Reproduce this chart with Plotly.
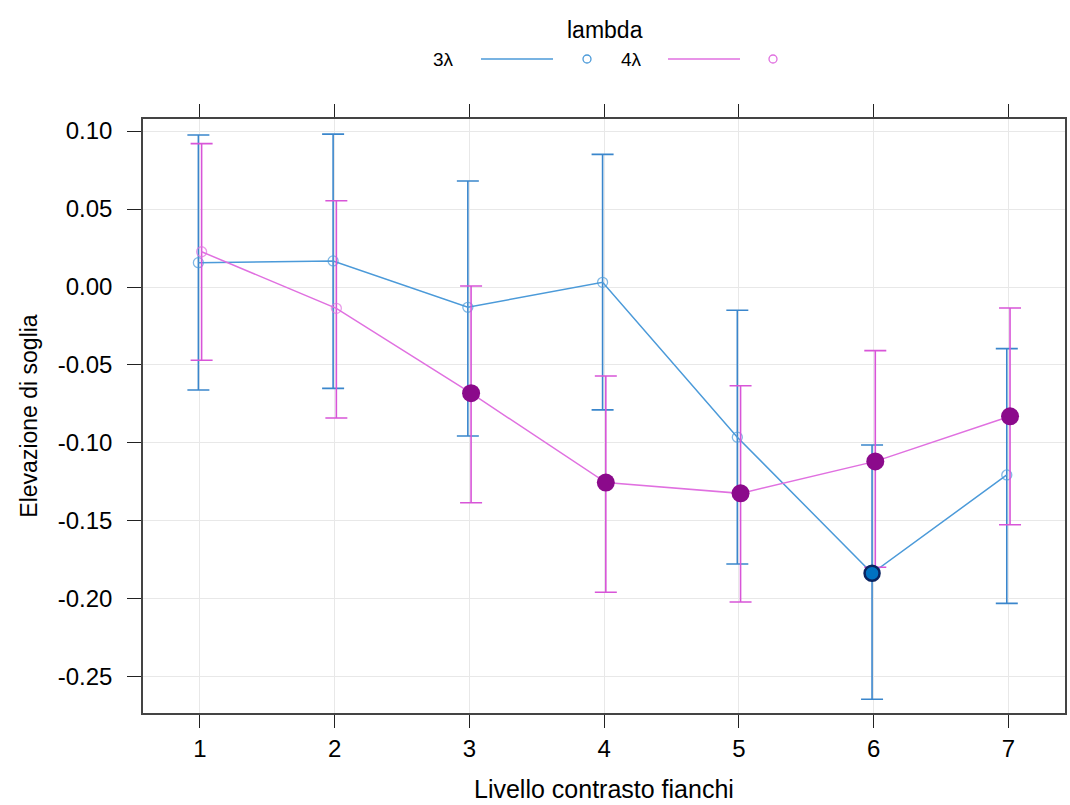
import plotly.graph_objects as go

# ---- data ----
levels = [1, 2, 3, 4, 5, 6, 7]
series_names = ["3λ", "4λ"]

blue_mean = [0.0156, 0.0167, -0.0130, 0.0030, -0.0963, -0.1835, -0.1205]
blue_lower = [-0.0660, -0.0650, -0.0955, -0.0788, -0.1776, -0.2643, -0.2028]
blue_upper = [0.0974, 0.0980, 0.0680, 0.0850, -0.0149, -0.1013, -0.0395]
blue_sig = [False, False, False, False, False, True, False]

pink_mean = [0.0226, -0.0137, -0.0681, -0.1254, -0.1323, -0.1118, -0.0829]
pink_lower = [-0.0470, -0.0840, -0.1383, -0.1957, -0.2019, -0.1797, -0.1524]
pink_upper = [0.0919, 0.0553, 0.0006, -0.0571, -0.0633, -0.0408, -0.0135]
pink_sig = [False, False, True, True, True, True, True]

y_ticks = [0.10, 0.05, 0.00, -0.05, -0.10, -0.15, -0.20, -0.25]
y_tick_text = ["0.10", "0.05", "0.00", "-0.05", "-0.10", "-0.15", "-0.20", "-0.25"]

x_title = "Livello contrasto fianchi"
y_title = "Elevazione di soglia"
legend_title = "lambda"

# ---- styles ----
BLUE_LINE = "#4b9ad9"
BLUE_ERR = "#3a86cc"
PINK_LINE = "#e070e0"
PINK_ERR = "#d855d8"
PINK_FILL = "#8b0a8b"
BLUE_FILL = "#0072c2"
BLUE_EDGE = "#0a2460"
FONT = "Liberation Sans, Arial, sans-serif"

W, H = 1070, 805
L, R, T, B = 143, 5, 119, 92
plot_w = W - L - R
plot_h = H - T - B

dodge = {"3λ": -0.012, "4λ": 0.012}

fig = go.Figure()


def add_series(name, mean, lower, upper, sig, line_col, err_col):
    xs = [lv + dodge[name] for lv in levels]
    plus = [u - m for u, m in zip(upper, mean)]
    minus = [m - lo for m, lo in zip(mean, lower)]
    open_sizes = [0 if s else 10 for s in sig]
    fig.add_trace(go.Scatter(
        x=xs, y=mean, mode="lines+markers", name=name, showlegend=False,
        line=dict(color=line_col, width=1.5),
        marker=dict(symbol="circle-open", size=open_sizes, color=line_col, line=dict(width=1.3, color=line_col)),
        error_y=dict(type="data", symmetric=False, array=plus, arrayminus=minus,
                     color=err_col, thickness=1.6, width=11),
    ))
    return xs


def add_sig(xs, mean, sig, fill_col, edge_col, fill_size, edge_w):
    sx = [x for x, s in zip(xs, sig) if s]
    sy = [y for y, s in zip(mean, sig) if s]
    fig.add_trace(go.Scatter(
        x=sx, y=sy, mode="markers", showlegend=False,
        marker=dict(symbol="circle", size=fill_size, color=fill_col, line=dict(width=edge_w, color=edge_col)),
    ))


bx = add_series("3λ", blue_mean, blue_lower, blue_upper, blue_sig, BLUE_LINE, BLUE_ERR)
px = add_series("4λ", pink_mean, pink_lower, pink_upper, pink_sig, PINK_LINE, PINK_ERR)
add_sig(px, pink_mean, pink_sig, PINK_FILL, PINK_FILL, 18, 0)
add_sig(bx, blue_mean, blue_sig, BLUE_FILL, BLUE_EDGE, 15, 2.5)


def xp(pxv):
    return (pxv - L) / plot_w


def yp(pyv):
    return (H - B - pyv) / plot_h


# ---- legend (drawn manually, lattice style) ----
shapes = []
annotations = [
    dict(text=legend_title, x=xp(605), y=yp(30), xref="paper", yref="paper", showarrow=False,
         font=dict(family=FONT, size=23, color="#000000"), xanchor="center", yanchor="middle"),
    dict(text=x_title, x=0.5, y=yp(789), xref="paper", yref="paper", showarrow=False,
         font=dict(family=FONT, size=25, color="#000000"), xanchor="center", yanchor="middle",
         borderpad=0),
]
legend_items = [
    (series_names[0], 443, 481, 553, 587, BLUE_LINE),
    (series_names[1], 631, 668, 740, 773, PINK_LINE),
]
for label, tx, l0, l1, cx, col in legend_items:
    annotations.append(dict(text=label, x=xp(tx), y=yp(59), xref="paper", yref="paper", showarrow=False,
                            font=dict(family=FONT, size=19, color="#000000"), xanchor="center", yanchor="middle"))
    shapes.append(dict(type="line", xref="paper", yref="paper", x0=xp(l0), x1=xp(l1), y0=yp(59), y1=yp(59),
                       line=dict(color=col, width=1.5)))
    shapes.append(dict(type="circle", xref="paper", yref="paper", x0=xp(cx - 4), x1=xp(cx + 4),
                       y0=yp(63), y1=yp(55), line=dict(color=col, width=1.3)))

fig.update_layout(
    width=W, height=H,
    margin=dict(l=L, r=R, t=T, b=B, autoexpand=False),
    paper_bgcolor="white", plot_bgcolor="white",
    font=dict(family=FONT, color="#000000"),
    shapes=shapes, annotations=annotations,
    showlegend=False,
)

fig.update_xaxes(
    range=[0.577, 7.42], tickvals=levels, ticktext=[str(v) for v in levels],
    showgrid=True, gridcolor="#e8e8e8", gridwidth=1, zeroline=False,
    showline=True, linecolor="#444444", linewidth=1.5, mirror="ticks",
    ticks="outside", ticklen=13, tickcolor="#222222", tickwidth=1.2,
    tickfont=dict(family=FONT, size=24, color="#000000"),
    automargin=False,
)
fig.update_yaxes(
    range=[-0.2731, 0.1077], tickvals=y_ticks, ticktext=y_tick_text,
    showgrid=True, gridcolor="#e8e8e8", gridwidth=1, zeroline=False,
    showline=True, linecolor="#444444", linewidth=1.5, mirror=True,
    ticks="outside", ticklen=14, tickcolor="#222222", tickwidth=1.2,
    tickfont=dict(family=FONT, size=24, color="#000000"),
    ticklabelstandoff=10,
    title=dict(text=y_title, font=dict(family=FONT, size=23, color="#000000"), standoff=14),
    automargin=False,
)

fig.write_html("out.html")
